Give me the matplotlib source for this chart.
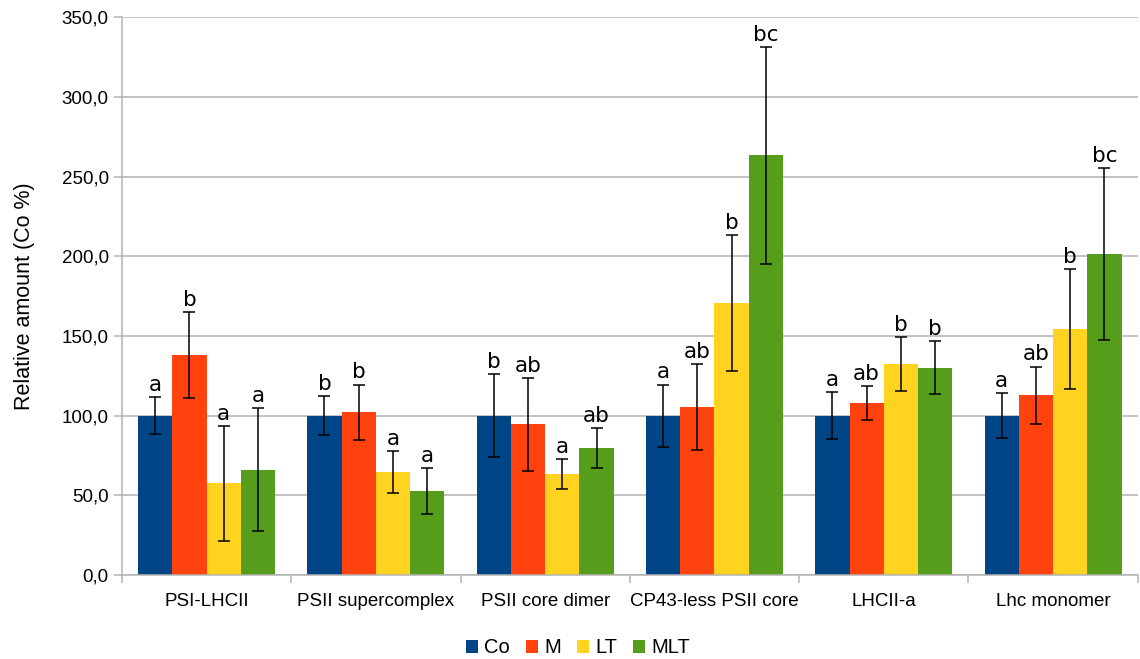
import matplotlib
matplotlib.use("Agg")
import matplotlib.pyplot as plt
import numpy as np
from matplotlib.patches import Patch
from matplotlib.ticker import FuncFormatter, MultipleLocator

categories = ["PSI-LHCII", "PSII supercomplex", "PSII core dimer",
              "CP43-less PSII core", "LHCII-a", "Lhc monomer"]
series = ["Co", "M", "LT", "MLT"]
colors = ["#004586", "#ff420e", "#ffd320", "#579d1c"]

co = [100.0, 100.0, 100.0, 100.0, 100.0, 100.0]
m = [138.0, 102.0, 94.5, 105.3, 108.0, 112.8]
lt = [57.5, 64.5, 63.3, 170.5, 132.3, 154.3]
mlt = [66.0, 52.7, 79.7, 263.3, 130.0, 201.5]

co_err = [11.5, 12.0, 26.0, 19.5, 14.5, 14.3]
m_err = [27.0, 17.5, 29.0, 27.0, 10.5, 18.0]
lt_err = [36.0, 13.3, 9.5, 42.5, 17.0, 37.5]
mlt_err = [38.5, 14.5, 12.5, 68.0, 16.5, 54.0]

co_sig = ["a", "b", "b", "a", "a", "a"]
m_sig = ["b", "b", "ab", "ab", "ab", "ab"]
lt_sig = ["a", "a", "a", "b", "b", "b"]
mlt_sig = ["a", "a", "ab", "bc", "b", "bc"]

values = [co, m, lt, mlt]
errors = [co_err, m_err, lt_err, mlt_err]
sigs = [co_sig, m_sig, lt_sig, mlt_sig]

plt.rcParams['font.family'] = ['Liberation Sans', 'DejaVu Sans']
fig = plt.figure(figsize=(11.4, 6.59), dpi=100)
ax = fig.add_axes([0.107, 0.1275, 0.891, 0.8465])

x = np.arange(len(categories))
bw = 0.2025
for i, (vals, errs, sg) in enumerate(zip(values, errors, sigs)):
    pos = x + (i - 1.5) * bw
    ax.bar(pos, vals, width=bw, color=colors[i], zorder=2)
    ax.errorbar(pos, vals, yerr=errs, fmt='none', ecolor='black',
                elinewidth=1.1, capsize=4.5, capthick=1.1, zorder=3)
    for p, v, e, s in zip(pos, vals, errs, sg):
        ax.annotate(s, (p, v + e), xytext=(0, 1.5), textcoords='offset points',
                    ha='center', va='bottom', fontsize=15.5,
                    family='DejaVu Sans', zorder=4)

ax.set_xlim(-0.5, len(categories) - 0.5)
ax.set_ylim(0, 350)
ax.yaxis.set_major_locator(MultipleLocator(50))
ax.yaxis.set_major_formatter(FuncFormatter(lambda v, _: f"{v:.1f}".replace('.', ',')))
ax.grid(axis='y', color='#b3b3b3', linewidth=1.1, zorder=0)
ax.set_axisbelow(True)

ax.set_xticks(x)
ax.set_xticklabels(categories, fontsize=13.5)
ax.tick_params(axis='x', length=0, pad=13)
ax.set_xticks(np.arange(len(categories) + 1) - 0.5, minor=True)
ax.tick_params(axis='x', which='minor', length=6, color='#b3b3b3', width=1.1)
ax.tick_params(axis='y', labelsize=13.5, length=6, color='#b3b3b3', width=1.1)
for s in ['top', 'right']:
    ax.spines[s].set_visible(False)
for s in ['left', 'bottom']:
    ax.spines[s].set_color('#b3b3b3')
    ax.spines[s].set_linewidth(1.1)

ax.set_ylabel("Relative amount (Co %)", fontsize=15.5, labelpad=19)

handles = [Patch(facecolor=c, label=s) for c, s in zip(colors, series)]
fig.legend(handles=handles, loc='lower center', ncol=4, frameon=False,
           fontsize=14.5, bbox_to_anchor=(0.507, -0.025), handlelength=0.6,
           handleheight=0.6, handletextpad=0.3, columnspacing=0.8)

fig.savefig("out.png", dpi=100)
